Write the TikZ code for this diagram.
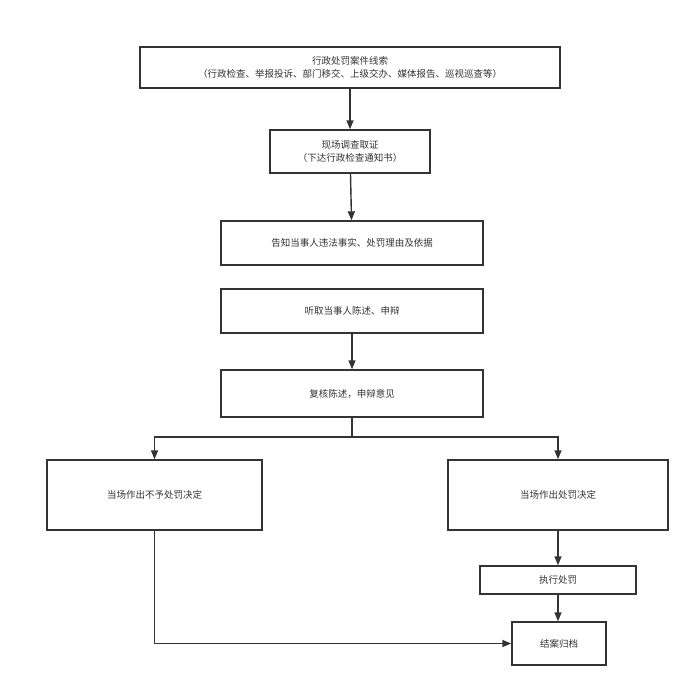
\documentclass[tikz,border=0pt]{standalone}
\usepackage{fontspec}
\setmainfont{Noto Sans CJK SC}
\usetikzlibrary{arrows.meta}
\definecolor{ln}{HTML}{333333}
\begin{document}
\begin{tikzpicture}[x=1pt,y=-1pt,
  box/.style={draw=ln,line width=1.4pt,inner sep=0pt,font=\fontsize{9.5pt}{13pt}\selectfont,align=center,text=ln},
  arr/.style={draw=ln,line width=1.4pt,-{Triangle[length=9pt,width=7pt]}},
  ln2/.style={draw=ln,line width=1.4pt}]
\useasboundingbox (0,0) rectangle (700,697);
\node[box,minimum width=420pt,minimum height=41pt] (b1) at (350,67.5) {行政处罚案件线索\\（行政检查、举报投诉、部门移交、上级交办、媒体报告、巡视巡查等）};
\node[box,minimum width=160pt,minimum height=43pt] (b2) at (350,151.5) {现场调查取证\\（下达行政检查通知书）};
\node[box,minimum width=262pt,minimum height=44pt] (b3) at (352,243) {告知当事人违法事实、处罚理由及依据};
\node[box,minimum width=262pt,minimum height=44pt] (b4) at (352,311) {听取当事人陈述、申辩};
\node[box,minimum width=262pt,minimum height=47pt] (b5) at (352,393.5) {复核陈述，申辩意见};
\node[box,minimum width=215pt,minimum height=70pt] (b6) at (154.5,495) {当场作出不予处罚决定};
\node[box,minimum width=220pt,minimum height=70pt] (b7) at (558,495) {当场作出处罚决定};
\node[box,minimum width=156pt,minimum height=28pt] (b8) at (558,580) {执行处罚};
\node[box,minimum width=94pt,minimum height=43pt] (b9) at (559,643.5) {结案归档};
\draw[arr] (b1) -- (b2);
\draw[arr] (b2) -- (b3);
\draw[arr] (b4) -- (b5);
\coordinate (s) at (352,437);
\draw[ln2] (b5.south) -- (s);
\draw[arr] (s) -| (b6.north);
\draw[arr] (s) -| (b7.north);
\draw[arr] (b7) -- (b8);
\draw[arr] (b8) -- (b8 |- b9.north);
\draw[arr] (b6.south) |- (b9.west);
\end{tikzpicture}
\end{document}
